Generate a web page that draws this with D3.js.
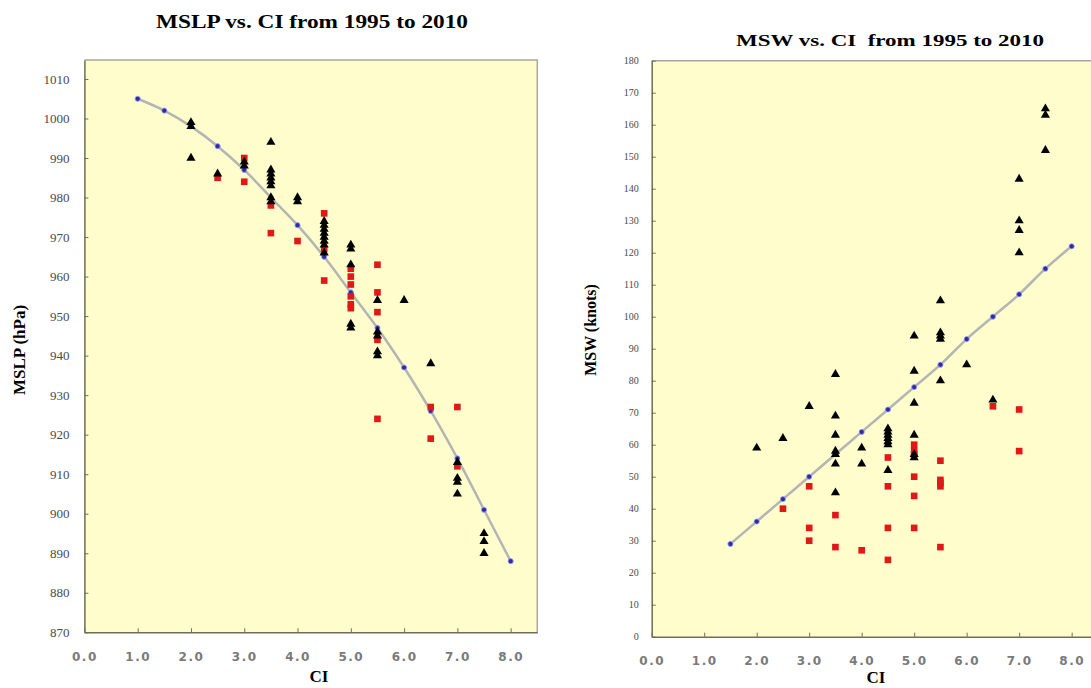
<!DOCTYPE html>
<html>
<head>
<meta charset="utf-8">
<script src="https://cdn.jsdelivr.net/npm/d3@7/dist/d3.min.js"></script>
<style>
  body { margin: 0; background: #ffffff; }
  svg  { display: block; }
</style>
</head>
<body>
<svg></svg>
<script>
// CI tick labels shared by both panels
var ci_ticks = [0, 1, 2, 3, 4, 5, 6, 7, 8];

// fitted (table) curves
var fit_ci_mslp = [1.0, 1.5, 2.0, 2.5, 3.0, 3.5, 4.0, 4.5, 5.0, 5.5, 6.0, 6.5, 7.0, 7.5, 8.0];
var fit_mslp    = [1005, 1002, 998, 993, 987, 980, 973, 965, 956, 947, 937, 926, 914, 901, 888];
var fit_ci_msw  = [1.5, 2.0, 2.5, 3.0, 3.5, 4.0, 4.5, 5.0, 5.5, 6.0, 6.5, 7.0, 7.5, 8.0];
var fit_msw     = [29, 36, 43, 50, 57, 64, 71, 78, 85, 93, 100, 107, 115, 122];

// observed MSLP, black triangles  [CI, hPa]
var mslp_black = [
  [2.0, 999], [2.0, 998], [2.0, 990],
  [2.5, 986],
  [3.0, 989], [3.0, 988],
  [3.5, 994], [3.5, 987], [3.5, 986], [3.5, 985], [3.5, 984], [3.5, 983], [3.5, 980], [3.5, 979],
  [4.0, 980], [4.0, 979],
  [4.5, 974], [4.5, 973], [4.5, 972], [4.5, 971], [4.5, 970], [4.5, 969], [4.5, 968], [4.5, 966],
  [5.0, 968], [5.0, 967], [5.0, 963], [5.0, 948], [5.0, 947],
  [5.5, 954], [5.5, 946], [5.5, 945], [5.5, 941], [5.5, 940],
  [6.0, 954],
  [6.5, 938],
  [7.0, 913], [7.0, 909], [7.0, 908], [7.0, 905],
  [7.5, 895], [7.5, 893], [7.5, 890]
];
// observed MSLP, red squares
var mslp_red = [
  [2.5, 985],
  [3.0, 990], [3.0, 984],
  [3.5, 978], [3.5, 971],
  [4.0, 969],
  [4.5, 976], [4.5, 967], [4.5, 959],
  [5.0, 962], [5.0, 960], [5.0, 958], [5.0, 955], [5.0, 953], [5.0, 952],
  [5.5, 963], [5.5, 956], [5.5, 951], [5.5, 944], [5.5, 924],
  [6.5, 927], [6.5, 919],
  [7.0, 927], [7.0, 912]
];

// observed MSW, black triangles [CI, knots]
var msw_black = [
  [2.0, 59],
  [2.5, 62],
  [3.0, 72],
  [3.5, 82], [3.5, 69], [3.5, 63], [3.5, 58], [3.5, 57], [3.5, 54], [3.5, 45],
  [4.0, 59], [4.0, 54],
  [4.5, 65], [4.5, 64], [4.5, 63], [4.5, 62], [4.5, 61], [4.5, 60], [4.5, 52],
  [5.0, 94], [5.0, 83], [5.0, 73], [5.0, 63], [5.0, 57], [5.0, 56],
  [5.5, 105], [5.5, 95], [5.5, 94], [5.5, 93], [5.5, 80],
  [6.0, 85],
  [6.5, 74],
  [7.0, 143], [7.0, 130], [7.0, 127], [7.0, 120],
  [7.5, 165], [7.5, 163], [7.5, 152]
];
// observed MSW, red squares
var msw_red = [
  [2.5, 40],
  [3.0, 47], [3.0, 34], [3.0, 30],
  [3.5, 38], [3.5, 28],
  [4.0, 27],
  [4.5, 56], [4.5, 47], [4.5, 34], [4.5, 24],
  [5.0, 60], [5.0, 58], [5.0, 57], [5.0, 50], [5.0, 44], [5.0, 34],
  [5.5, 55], [5.5, 49], [5.5, 48], [5.5, 47], [5.5, 28],
  [6.5, 72],
  [7.0, 71], [7.0, 58]
];

var svg = d3.select("svg")
            .attr("width",  1091)
            .attr("height", 688);

var serif = "'Liberation Serif', 'Times New Roman', serif";

function draw_panel(o) {
	var x = d3.scaleLinear().domain([0, 8.5]).range([o.left, o.right]);
	var y = d3.scaleLinear().domain(o.ydomain).range([o.bottom, o.top]);
	var g = svg.append("g");

	// plot area
	g.append("rect")
	  .attr("x", o.left).attr("y", o.top)
	  .attr("width", o.right - o.left).attr("height", o.bottom - o.top)
	  .attr("fill", "#fffdcc");
	// top and right frame
	g.append("path")
	  .attr("d", "M" + o.left + "," + o.top + "H" + o.right + "V" + o.bottom)
	  .attr("fill", "none").attr("stroke", "#a8a8a0").attr("stroke-width", 1.5);

	var xa = g.append("g")
	  .attr("transform", "translate(0," + o.bottom + ")")
	  .call(d3.axisBottom(x).tickValues(ci_ticks).tickFormat(d3.format(".1f"))
	          .tickSizeInner(-4).tickSizeOuter(0).tickPadding(o.xpad));
	xa.selectAll("text")
	  .attr("font-family", "'DejaVu Sans', Verdana, sans-serif")
	  .attr("font-size", 12).attr("font-weight", "bold")
	  .attr("letter-spacing", 1.5).attr("fill", "#7a7a7a");

	var ya = g.append("g")
	  .attr("transform", "translate(" + o.left + ",0)")
	  .call(d3.axisLeft(y).tickValues(o.yticks).tickFormat(d3.format("d"))
	          .tickSizeInner(-4).tickSizeOuter(0).tickPadding(o.ypad));
	ya.selectAll("text")
	  .attr("font-family", serif).attr("font-size", o.yfont).attr("fill", "#4a4a4a");

	g.selectAll(".domain").attr("stroke", "#6e6e58").attr("stroke-width", 1.5);
	g.selectAll(".tick line").attr("stroke", "#6e6e58");

	// fitted curve with its blue points
	var fit = o.fit_ci.map(function (c, i) { return [c, o.fit_val[i]]; });
	g.append("path")
	  .datum(fit)
	  .attr("fill", "none")
	  .attr("stroke", "#b4b4b4")
	  .attr("stroke-width", 2.5)
	  .attr("d", d3.line()
	               .x(function (d) { return x(d[0]); })
	               .y(function (d) { return y(d[1]); })
	               .curve(d3.curveCatmullRom));
	g.selectAll("circle.fit")
	  .data(fit)
	  .enter().append("circle")
	  .attr("class", "fit")
	  .attr("cx", function (d) { return x(d[0]); })
	  .attr("cy", function (d) { return y(d[1]); })
	  .attr("r", 2.6)
	  .attr("fill", "#2b2bb0")
	  .attr("stroke", "#a8a8f0")
	  .attr("stroke-width", 0.8);

	// red squares then black triangles
	g.selectAll("path.red")
	  .data(o.red)
	  .enter().append("path")
	  .attr("class", "red")
	  .attr("d", d3.symbol().type(d3.symbolSquare).size(44))
	  .attr("transform", function (d) { return "translate(" + x(d[0]) + "," + y(d[1]) + ")"; })
	  .attr("fill", "#e01818");
	g.selectAll("path.black")
	  .data(o.black)
	  .enter().append("path")
	  .attr("class", "black")
	  .attr("d", d3.symbol().type(d3.symbolTriangle).size(36))
	  .attr("transform", function (d) { return "translate(" + x(d[0]) + "," + y(d[1]) + ")"; })
	  .attr("fill", "#000000");

	// titles (the source picture is a bit stretched sideways, hence textLength)
	svg.append("text")
	  .attr("x", o.title_x).attr("y", o.title_y)
	  .attr("text-anchor", "middle")
	  .style("white-space", "pre")
	  .attr("font-family", serif).attr("font-weight", "bold").attr("font-size", o.title_size)
	  .attr("textLength", o.title_len).attr("lengthAdjust", "spacingAndGlyphs")
	  .text(o.title);
	svg.append("text")
	  .attr("x", o.ci_x).attr("y", o.ci_y)
	  .attr("text-anchor", "middle")
	  .attr("font-family", serif).attr("font-weight", "bold").attr("font-size", 17)
	  .text("CI");
	svg.append("text")
	  .attr("transform", "translate(" + o.ylab_x + "," + o.ylab_y + ") rotate(-90)")
	  .attr("text-anchor", "middle")
	  .attr("font-family", serif).attr("font-weight", "bold").attr("font-size", o.ylab_size)
	  .text(o.ylabel);
}

draw_panel({
	left: 84.4, right: 537.3, top: 60, bottom: 632.3,
	ydomain: [870, 1014.8], yticks: d3.range(870, 1011, 10),
	ypad: 15, yfont: 13, xpad: 20,
	fit_ci: fit_ci_mslp, fit_val: fit_mslp,
	black: mslp_black, red: mslp_red,
	title: "MSLP vs. CI from 1995 to 2010", title_x: 312, title_y: 28, title_size: 19, title_len: 312,
	ci_x: 319, ci_y: 682,
	ylabel: "MSLP (hPa)", ylab_x: 25, ylab_y: 350, ylab_size: 17
});

draw_panel({
	left: 651.7, right: 1097.9, top: 60.7, bottom: 636.7,
	ydomain: [0, 180], yticks: d3.range(0, 181, 10),
	ypad: 13, yfont: 10, xpad: 20,
	fit_ci: fit_ci_msw, fit_val: fit_msw,
	black: msw_black, red: msw_red,
	title: "MSW vs. CI  from 1995 to 2010", title_x: 890, title_y: 46, title_size: 17, title_len: 308,
	ci_x: 876, ci_y: 683,
	ylabel: "MSW (knots)", ylab_x: 596, ylab_y: 330, ylab_size: 16
});
</script>
</body>
</html>
